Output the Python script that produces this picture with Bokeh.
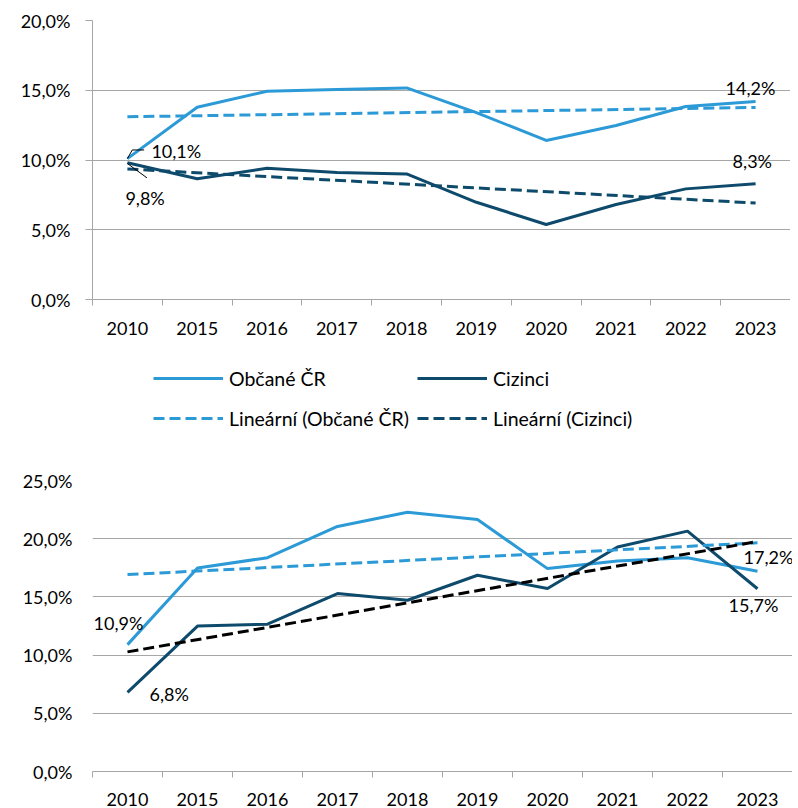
import numpy as np
from bokeh.plotting import figure
from bokeh.models import (Range1d, FixedTicker, CustomJSTickFormatter, Legend, LegendItem)
from bokeh.layouts import column
from bokeh.embed import file_html
from bokeh.resources import INLINE
from bokeh.core.properties import value

# ---------------- data ----------------
years = ["2010", "2015", "2016", "2017", "2018", "2019", "2020", "2021", "2022", "2023"]
top_obcane = [10.1, 13.78, 14.93, 15.05, 15.17, 13.4, 11.4, 12.47, 13.83, 14.2]
top_cizinci = [9.8, 8.65, 9.41, 9.1, 9.0, 6.97, 5.38, 6.81, 7.93, 8.3]
bot_obcane = [10.9, 17.48, 18.37, 21.05, 22.28, 21.65, 17.43, 18.08, 18.37, 17.2]
bot_cizinci = [6.8, 12.49, 12.66, 15.29, 14.71, 16.86, 15.72, 19.28, 20.65, 15.7]
top_ticks = [0, 5, 10, 15, 20]
bot_ticks = [0, 5, 10, 15, 20, 25]
series_names = ["Občané ČR", "Cizinci"]

LIGHT = "#2C9AD6"
DARK = "#0E4A6B"
GRID = "#A6A6A6"
FONT = "Lato"
FS = "18px"
DASH = "11 5"

idx = list(range(len(years)))


def trend(vals):
    k, q = np.polyfit(idx, vals, 1)
    xs = [idx[0], idx[-1]]
    return xs, [k * x + q for x in xs]


def fmt(v):
    return ("%.1f" % v).replace(".", ",") + "%"


pct_fmt = CustomJSTickFormatter(code="return tick.toFixed(1).replace('.', ',') + '%';")
year_fmt = CustomJSTickFormatter(args=dict(labels=years),
                                 code="const i = Math.round(tick); return (i >= 0 && i < labels.length) ? labels[i] : '';")


def make_fig(width, height, ymax, ticks, left, top, bottom, show_yaxis):
    p = figure(width=width, height=height, output_backend="svg", toolbar_location=None,
               x_range=Range1d(-0.5, len(years) - 0.5), y_range=Range1d(0, ymax),
               min_border_left=left, min_border_right=0, min_border_top=top, min_border_bottom=bottom)
    p.outline_line_color = None
    p.xgrid.grid_line_color = None
    p.ygrid.grid_line_color = GRID
    p.ygrid.grid_line_width = 1
    p.yaxis.ticker = FixedTicker(ticks=ticks)
    p.yaxis.formatter = pct_fmt
    p.xaxis.ticker = FixedTicker(ticks=idx, minor_ticks=[i - 0.5 for i in range(len(years) + 1)])
    p.xaxis.formatter = year_fmt
    for ax in (p.xaxis, p.yaxis):
        ax.major_label_text_font = FONT
        ax.major_label_text_font_size = FS
        ax.major_label_text_color = "#000000"
    p.xaxis.axis_line_color = GRID
    p.xaxis.major_tick_line_color = None
    p.xaxis.major_tick_out = 0
    p.xaxis.major_tick_in = 0
    p.xaxis.minor_tick_line_color = GRID
    p.xaxis.minor_tick_out = 6
    p.xaxis.minor_tick_in = 0
    p.yaxis.minor_tick_line_color = None
    if show_yaxis:
        p.yaxis.axis_line_color = GRID
        p.yaxis.major_tick_line_color = GRID
        p.yaxis.major_tick_out = 7
        p.yaxis.major_tick_in = 0
        p.yaxis.major_label_standoff = 15
    else:
        p.yaxis.axis_line_color = None
        p.yaxis.major_tick_line_color = None
        p.yaxis.major_tick_out = 0
        p.yaxis.major_tick_in = 0
        p.yaxis.major_label_standoff = 20
    return p


def add_label(p, i, v, dx, dy):
    p.text(x=[idx[i]], y=[v], text=[fmt(v)], x_offset=dx, y_offset=dy,
           text_font=value(FONT), text_font_size=FS, text_color="#000000",
           text_align="left", text_baseline="middle")


# ---------------- top chart ----------------
top = make_fig(790, 345, 20, top_ticks, 90, 20, 46, True)
top.xaxis.major_label_standoff = 16

top.line(idx, top_obcane, line_color=LIGHT, line_width=3)
top.line(idx, top_cizinci, line_color=DARK, line_width=3)
tx, ty = trend(top_obcane)
top.line(tx, ty, line_color=LIGHT, line_width=3, line_dash=DASH)
tx, ty = trend(top_cizinci)
top.line(tx, ty, line_color=DARK, line_width=3, line_dash=DASH)

# leader lines of the first two data labels
v0 = top_obcane[0]
top.line([idx[0], idx[0] + 0.07, idx[0] + 0.24], [v0, v0 + 0.62, v0 + 0.62], line_color="#000000", line_width=1)
v1 = top_cizinci[0]
top.line([idx[0], idx[0] + 0.28], [v1 - 0.05, v1 - 1.08], line_color="#000000", line_width=1)

add_label(top, 0, top_obcane[0], 24, -8)
add_label(top, 0, top_cizinci[0], -2, 35)
add_label(top, 9, top_obcane[-1], -30, -13)
add_label(top, 9, top_cizinci[-1], -23, -23)

# ---------------- legend (own strip under the top chart) ----------------
lf = figure(width=790, height=102, output_backend="svg", toolbar_location=None,
            x_range=Range1d(0, 1), y_range=Range1d(0, 1),
            x_axis_location=None, y_axis_location=None,
            min_border_left=92, min_border_right=0, min_border_top=0, min_border_bottom=0)
lf.outline_line_color = None
lf.grid.grid_line_color = None
nan = [float("nan")]
g1 = lf.line(x=nan, y=nan, line_color=LIGHT, line_width=3)
g2 = lf.line(x=nan, y=nan, line_color=DARK, line_width=3)
g3 = lf.line(x=nan, y=nan, line_color=LIGHT, line_width=3, line_dash=DASH)
g4 = lf.line(x=nan, y=nan, line_color=DARK, line_width=3, line_dash=DASH)
legend = Legend(items=[
    LegendItem(label=series_names[0], renderers=[g1]),
    LegendItem(label="Lineární (" + series_names[0] + ")", renderers=[g3]),
    LegendItem(label=series_names[1], renderers=[g2]),
    LegendItem(label="Lineární (" + series_names[1] + ")", renderers=[g4]),
], ncols=2, location=(61, 13),
    glyph_width=70, glyph_height=32, label_height=32, label_standoff=6, spacing=8,
    padding=0, margin=0, border_line_color=None, background_fill_alpha=0,
    label_text_font=FONT, label_text_font_size="19.5px", label_text_color="#000000")
lf.add_layout(legend, "center")

# ---------------- bottom chart ----------------
bot = make_fig(792, 361, 25, bot_ticks, 92, 33, 36, False)
bot.xaxis.major_label_standoff = 15

bot.line(idx, bot_obcane, line_color=LIGHT, line_width=3)
bot.line(idx, bot_cizinci, line_color=DARK, line_width=3)
tx, ty = trend(bot_obcane)
bot.line(tx, ty, line_color=LIGHT, line_width=3, line_dash=DASH)
tx, ty = trend(bot_cizinci)
bot.line(tx, ty, line_color="#000000", line_width=3, line_dash=DASH)

add_label(bot, 0, bot_obcane[0], -34, -22)
add_label(bot, 0, bot_cizinci[0], 22, 2)
add_label(bot, 9, bot_obcane[-1], -14, -14)
add_label(bot, 9, bot_cizinci[-1], -29, 16)

layout = column(top, lf, bot, spacing=0)
open("out.html", "w").write(file_html(layout, INLINE))
